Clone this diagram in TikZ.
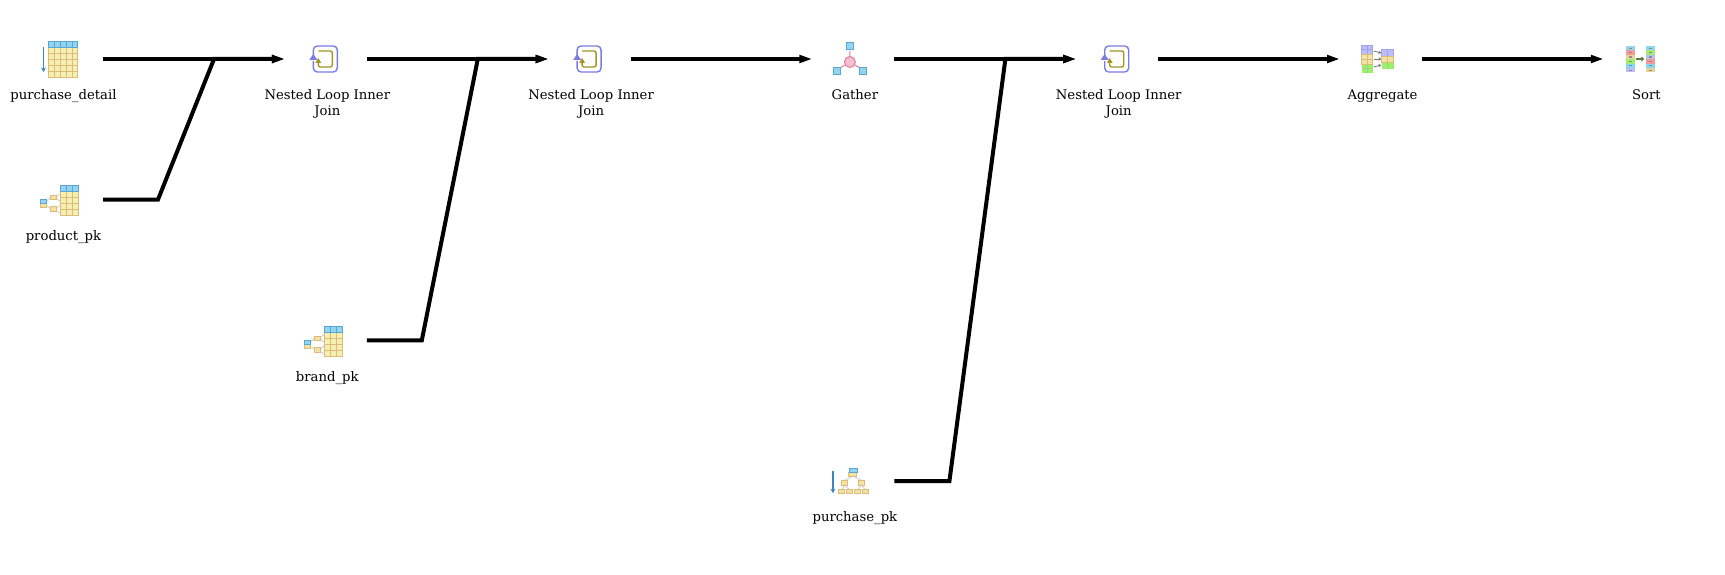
\documentclass[tikz,border=0pt]{standalone}
\usepackage{fontspec}
\setmainfont{DejaVu Serif}
\usetikzlibrary{arrows.meta,positioning}
\definecolor{hdfill}{HTML}{93D5F0}
\definecolor{hdline}{HTML}{5AA6D2}
\definecolor{cellfill}{HTML}{F6EFB4}
\definecolor{cellline}{HTML}{DDBC78}
\definecolor{scanblue}{HTML}{3A87C2}
\definecolor{loopout}{HTML}{7B7BE6}
\definecolor{loopin}{HTML}{A39526}
\definecolor{gatherpink}{HTML}{F6C0D2}
\definecolor{gatherline}{HTML}{E07C9C}
\definecolor{grpviolet}{HTML}{BDBDF5}
\definecolor{grpyellow}{HTML}{F2E2A4}
\definecolor{grpgreen}{HTML}{98F268}
\definecolor{srtred}{HTML}{F29A9A}
\definecolor{srttan}{HTML}{E6D49A}
\definecolor{srtgreen}{HTML}{A0EE70}
\definecolor{srtcyan}{HTML}{86D8F2}
\tikzset{
  opnode/.style={minimum width=79pt,minimum height=61pt,inner sep=0pt,outer sep=0pt},
  oplabel/.style={align=center,inner sep=0pt,font=\fontsize{13.2pt}{15.5pt}\selectfont,label distance=0pt},
  flow/.style={line width=3.6pt,shorten >=3pt},
  flowjoin/.style={line width=4pt,shorten >=3pt,line join=miter},
  keybox/.style={draw=cellline,fill=grpyellow,line width=1pt},
  headbox/.style={draw=hdline,fill=hdfill,line width=.8pt},
  twig/.style={draw=black!20,line width=.8pt},
  scanarrow/.style={draw=scanblue,line width=1.3pt,-{Stealth[length=4.5pt,width=5pt]}},
  pics/seqscan/.style={code={
    \fill[cellfill] (-15,-18) rectangle (14,12);
    \foreach \x in {-9,-3,3,9} \draw[cellline,line width=.8pt] (\x,-18) -- (\x,18);
    \foreach \y in {-12,-6,0,6} \draw[cellline,line width=.8pt] (-15,\y) -- (14,\y);
    \draw[cellline,line width=.9pt] (-15,-18) rectangle (14,12);
    \draw[headbox] (-15,12) rectangle (14,18);
    \foreach \x in {-9,-3,3,9} \draw[hdline,line width=.8pt] (\x,12) -- (\x,18);
    \draw[scanarrow] (-20,12) -- (-20,-13);
  }},
  pics/idxscan/.style={code={
    \fill[cellfill] (-3,-16) rectangle (15,8);
    \foreach \x in {3,9} \draw[cellline,line width=.8pt] (\x,-16) -- (\x,14);
    \foreach \y in {-10,-4,2} \draw[cellline,line width=.8pt] (-3,\y) -- (15,\y);
    \draw[cellline,line width=.9pt] (-3,-16) rectangle (15,8);
    \draw[headbox] (-3,8) rectangle (15,14);
    \foreach \x in {3,9} \draw[hdline,line width=.8pt] (\x,8) -- (\x,14);
    \draw[twig] (-17,-2) -- (-13,2) (-17,-6) -- (-13,-9) (-7,3) -- (-3,6) (-7,1) -- (-3,-2)
      (-7,-9) -- (-3,-5) (-7,-11) -- (-3,-14);
    \draw[keybox] (-13,0) rectangle (-7,4) (-13,-12) rectangle (-7,-7);
    \draw[keybox] (-23,-8) rectangle (-17,-4);
    \draw[headbox] (-23,-4) rectangle (-17,0);
  }},
  pics/looparrows/.style={code={
    \draw[loopout,line width=1.4pt,rounded corners=4pt] (-14,3) -- (-14,13) -- (10,13) -- (10,-13) -- (-14,-13) -- (-14,-2);
    \fill[loopout] (-18,-1) -- (-14,5) -- (-10,-1) -- cycle;
    \draw[loopin,line width=1.4pt,rounded corners=2pt] (-9,8) -- (5,8) -- (5,-8) -- (-9,-8) -- (-9,-4);
    \fill[loopin] (-12,-4) -- (-9,1) -- (-6,-4) -- cycle;
  }},
  pics/gatherdot/.style={code={
    \draw[gatherline,line width=1pt] (-5,8) -- (-5,2) (-15,-9) -- (-10,-6) (5,-9) -- (0,-6);
    \draw[gatherline,fill=gatherpink,line width=1pt] (-5,-3) circle (5.5);
    \draw[hdline,fill=hdfill,line width=1pt] (-8.2,9.8) rectangle (-1.8,16.2);
    \draw[hdline,fill=hdfill,line width=1pt] (-21.2,-15.2) rectangle (-14.8,-8.8);
    \draw[hdline,fill=hdfill,line width=1pt] (4.8,-15.2) rectangle (11.2,-8.8);
  }},
  pics/treescan/.style={code={
    \draw[twig] (-2,5) -- (-10,1) (-2,5) -- (6.5,1) (-10,-4) -- (-13,-8) (-10,-4) -- (-6,-8) (6.5,-4) -- (3,-8) (6.5,-4) -- (10,-8);
    \draw[keybox] (-6,5) rectangle (2,9);
    \draw[headbox] (-6,9) rectangle (2,13);
    \draw[keybox] (-13,-4) rectangle (-7,1) (3.5,-4) rectangle (9.5,1);
    \foreach \x in {-16,-8,0,8} \draw[keybox] (\x,-12) rectangle (\x+6,-8);
    \draw[scanarrow] (-22,10) -- (-22,-12);
  }},
  pics/groupcols/.style={code={
    \fill[grpviolet] (-21,5) rectangle (-10,14);
    \fill[grpyellow] (-21,-5) rectangle (-10,5);
    \fill[grpgreen] (-21,-14) rectangle (-10,-5);
    \fill[grpviolet] (-1,3) rectangle (11,10);
    \fill[grpyellow] (-1,-3) rectangle (11,3);
    \fill[grpgreen] (-1,-10) rectangle (11,-3);
    \draw[loopout!70,line width=.6pt] (-21,5) rectangle (-10,14) (-1,3) rectangle (11,10) (-15.5,5) -- (-15.5,14) (-21,9.5) -- (-10,9.5) (5,3) -- (5,10);
    \draw[cellline,line width=.6pt] (-21,-5) rectangle (-10,5) (-1,-3) rectangle (11,3) (-15.5,-5) -- (-15.5,5) (-21,0) -- (-10,0) (5,-3) -- (5,3);
    \draw[srtgreen!70!black!60,line width=.6pt] (-15.5,-14) -- (-15.5,-5) (-21,-9.5) -- (-10,-9.5) (5,-10) -- (5,-3);
    \foreach \y/\t in {8/6,0/0,-8/-6}
      \draw[black!55,line width=.8pt,-{Stealth[length=3pt,width=3pt]}] (-9,\y) -- (-1,\t);
  }},
  pics/sortcols/.style={code={
    \foreach \n/\c in {0/hdfill,1/srtred,2/srttan,3/srtgreen,4/srtcyan,5/grpviolet}{
      \fill[\c] (-20,13-\n*4.4) rectangle (-11,8.6-\n*4.4);
      \fill[black!45] (-17,11.4-\n*4.4) rectangle (-14,10.2-\n*4.4);
    }
    \foreach \n/\c in {0/hdfill,1/srtgreen,2/grpviolet,3/srtred,4/srtcyan,5/srttan}{
      \fill[\c] (0,13-\n*4.4) rectangle (9,8.6-\n*4.4);
      \fill[black!45] (3,11.4-\n*4.4) rectangle (6,10.2-\n*4.4);
    }
    \draw[srtgreen!55!black,line width=2pt,-{Stealth[length=3pt,width=5pt,inset=0pt]}] (-10,0) -- (-2,0);
  }}
}
\begin{document}
\begin{tikzpicture}[x=1pt,y=1pt,node distance=263.8pt,on grid,>={Stealth[length=13pt,width=7.5pt,inset=0pt]}]
      \useasboundingbox (0,0) rectangle (1725,-575);
      \node[opnode,label={[oplabel]below:purchase\_detail}] (detail) at (63.5,-59) {};
      \node[opnode,label={[oplabel]below:product\_pk}]      (product) [below=140.6pt of detail] {};
      \node[opnode,label={[oplabel]below:Nested Loop Inner\\Join}] (loop1) [right=of detail] {};
      \node[opnode,label={[oplabel]below:brand\_pk}]        (brand) [below=281.4pt of loop1] {};
      \node[opnode,label={[oplabel]below:Nested Loop Inner\\Join}] (loop2) [right=of loop1] {};
      \node[opnode,label={[oplabel]below:Gather}]           (gather) [right=of loop2] {};
      \node[opnode,label={[oplabel]below:purchase\_pk}]     (purchase) [below=422.2pt of gather] {};
      \node[opnode,label={[oplabel]below:Nested Loop Inner\\Join}] (loop3) [right=of gather] {};
      \node[opnode,label={[oplabel]below:Aggregate}]        (aggregate) [right=of loop3] {};
      \node[opnode,label={[oplabel]below:Sort}]             (sort) [right=of aggregate] {};

      \pic at (detail)    {seqscan};
      \pic at (product)   {idxscan};
      \pic at (brand)     {idxscan};
      \pic at (loop1)     {looparrows};
      \pic at (loop2)     {looparrows};
      \pic at (loop3)     {looparrows};
      \pic at (gather)    {gatherdot};
      \pic at (purchase)  {treescan};
      \pic at (aggregate) {groupcols};
      \pic at (sort)      {sortcols};

      \coordinate (bend1) at ([xshift=55pt]product.east);
      \coordinate (meet1) at ([xshift=111pt]detail.east);
      \coordinate (bend2) at ([xshift=55pt]brand.east);
      \coordinate (meet2) at ([xshift=111pt]loop1.east);
      \coordinate (bend3) at ([xshift=55pt]purchase.east);
      \coordinate (meet3) at ([xshift=111pt]gather.east);

      \draw[flow,->] (detail.east) -- (loop1.west);
      \draw[flow,->] (loop1.east) -- (loop2.west);
      \draw[flow,->] (loop2.east) -- (gather.west);
      \draw[flow,->] (gather.east) -- (loop3.west);
      \draw[flow,->] (loop3.east) -- (aggregate.west);
      \draw[flow,->] (aggregate.east) -- (sort.west);
      \draw[flowjoin,->] (product.east) -- (bend1) -- (meet1) -- (loop1.west);
      \draw[flowjoin,->] (brand.east) -- (bend2) -- (meet2) -- (loop2.west);
      \draw[flowjoin,->] (purchase.east) -- (bend3) -- (meet3) -- (loop3.west);
\end{tikzpicture}
\end{document}
